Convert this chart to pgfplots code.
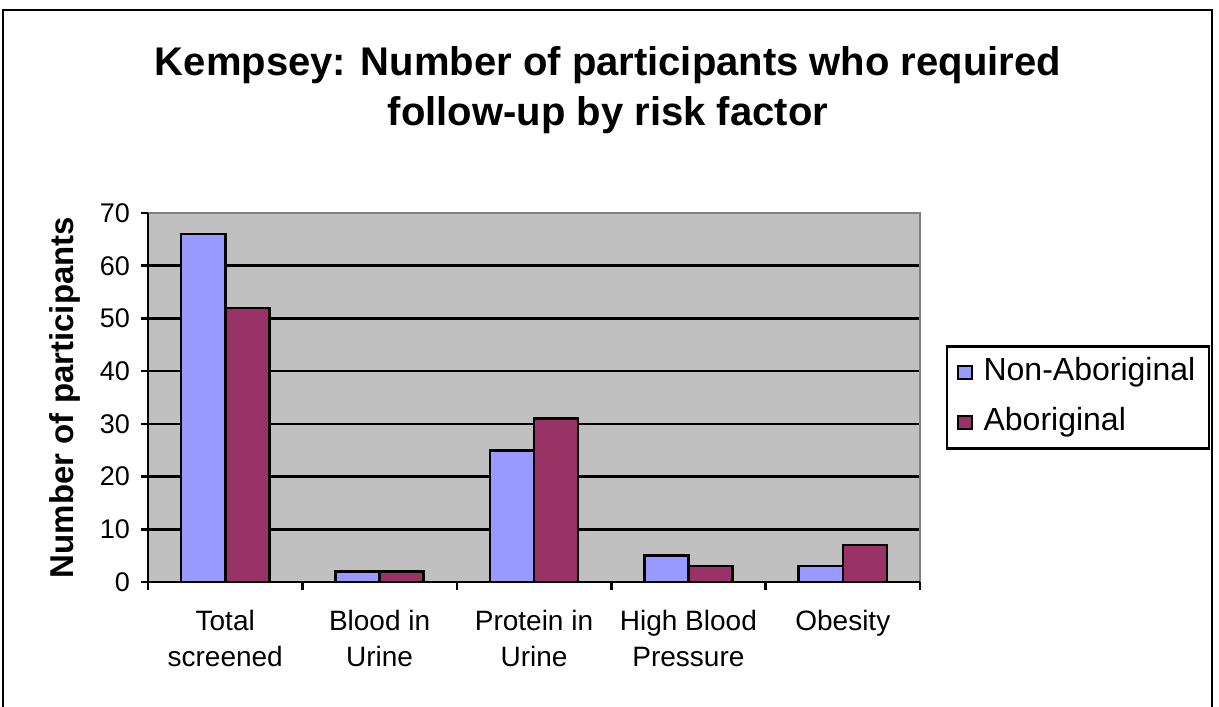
\documentclass[border=0pt]{standalone}
\usepackage{fontspec}
\setmainfont{Liberation Sans}
\usepackage{pgfplots}
\pgfplotsset{compat=1.18}
\definecolor{nonab}{HTML}{9999FF}
\definecolor{ab}{HTML}{993366}
\definecolor{plotbg}{HTML}{C0C0C0}
\definecolor{frame}{HTML}{808080}
\begin{document}
\begin{tikzpicture}
\path[use as bounding box] (0,0) rectangle (609.5pt,353pt);
\draw[line width=1.3pt] (1.5pt,-2pt) -- (1.5pt,348pt) -- (606pt,348pt) -- (606pt,-2pt);
\node[font=\bfseries\fontsize{20}{25}\selectfont, align=center] at (304pt,308pt)
  {Kempsey: Number of participants who required\\follow-up by risk factor};
\begin{axis}[
  name=ax,
  at={(74pt,62pt)}, anchor=south west, scale only axis,
  width=386pt, height=184.5pt,
  xmin=-0.5, xmax=4.5, ymin=0, ymax=70,
  ybar=0pt, bar width=0.285,
  axis lines*=left, axis line style={-, black, line width=1.3pt},
  axis background/.style={fill=plotbg},
  ytick={0,10,...,70}, ymajorgrids, grid style={black, line width=1.3pt},
  tick align=outside, major tick length=3.5pt, minor tick length=4pt,
  tick style={black, line width=1.3pt},
  xtick={0,...,4},
  xticklabels={{Total\\screened},{Blood in\\Urine},{Protein in\\Urine},{High Blood\\Pressure},{Obesity}},
  major x tick style={draw=none},
  minor xtick={-0.5,0.5,...,4.5},
  xticklabel style={align=center, font=\fontsize{14}{18}\selectfont, yshift=-7.2pt},
  yticklabel style={font=\fontsize{13.5}{16}\selectfont, xshift=-2pt},
  /pgf/number format/assume math mode=true,
  ylabel={Number of participants},
  every axis y label/.style={at={(rel axis cs:0,0.5)}, xshift=-41.5pt, rotate=90, anchor=center,
     font=\bfseries\fontsize{16.5}{20}\selectfont},
  legend style={at={(1,0.5)}, anchor=west, xshift=13pt, draw=black, line width=1.2pt,
     font=\fontsize{16}{19}\selectfont, inner xsep=5pt, inner ysep=3pt,
     row sep=5pt, column sep=3.5pt,
     nodes={inner sep=2pt, text height=12pt, text depth=4pt}},
  legend cell align=left,
  legend image code/.code={\draw[#1, line width=0.9pt] (0pt,-3.4pt) rectangle (6.8pt,3.4pt);},
]
\addplot[fill=nonab, draw=black, line width=1.3pt] coordinates {(0,66) (1,2) (2,25) (3,5) (4,3)};
\addplot[fill=ab, draw=black, line width=1.3pt] coordinates {(0,52) (1,2) (2,31) (3,3) (4,7)};
\legend{Non-Aboriginal, Aboriginal}
\end{axis}
\draw[frame, line width=1.2pt] (ax.north west) -- (ax.north east) -- (ax.south east);
\draw[black, line width=1.3pt] (ax.north west) -- (ax.south west) -- (ax.south east);
\end{tikzpicture}
\end{document}
